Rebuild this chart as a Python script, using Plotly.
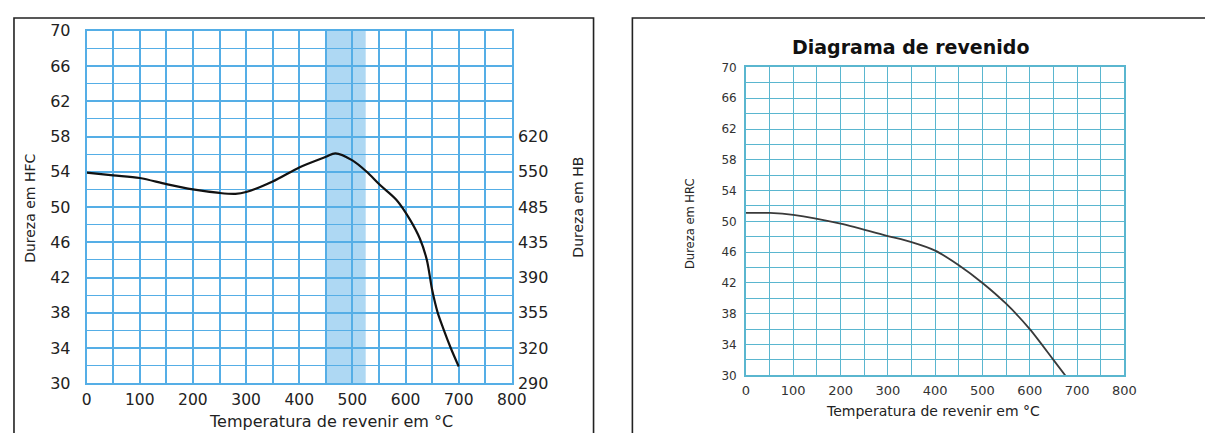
import plotly.graph_objects as go

W, H = 1213, 433

# ---- data (left chart) ----
left_temp = [0, 50, 100, 150, 200, 250, 280, 300, 350, 400, 450, 468, 500, 527, 552, 583, 608, 627, 640, 650, 660, 671, 685, 700]
left_hrc = [53.9, 53.6, 53.3, 52.6, 52.0, 51.6, 51.5, 51.7, 52.9, 54.5, 55.7, 56.1, 55.3, 54.0, 52.5, 50.8, 48.6, 46.4, 44.0, 40.6, 38.1, 36.2, 34.0, 31.9]
hrc_ticks_right = [58, 54, 50, 46, 42, 38, 34, 30]
hb_labels = ["620", "550", "485", "435", "390", "355", "320", "290"]
band_range = [450, 525]

# ---- data (right chart) ----
right_temp = [0, 50, 100, 200, 300, 350, 400, 450, 500, 550, 600, 650, 676]
right_hrc = [51.1, 51.1, 50.85, 49.7, 48.1, 47.3, 46.2, 44.3, 42.0, 39.3, 36.0, 32.0, 29.9]

# map a target screen pixel to a layout (paper) fraction
def px_x(p):
    return ((p - 11.1) / 0.9875) / W

def px_y(p):
    return 1 - ((p - 15.0) / 0.966) / H

FONT = "DejaVu Sans"

fig = go.Figure()

fig.add_trace(go.Scatter(x=left_temp, y=left_hrc, mode="lines", xaxis="x", yaxis="y",
                         line=dict(color="#111111", width=2.2, shape="spline", smoothing=0.9),
                         showlegend=False, hoverinfo="skip"))
# invisible trace to bind the HB axis
fig.add_trace(go.Scatter(x=[0], y=[30], mode="markers", xaxis="x", yaxis="y2",
                         marker=dict(opacity=0), showlegend=False, hoverinfo="skip"))
fig.add_trace(go.Scatter(x=right_temp, y=right_hrc, mode="lines", xaxis="x3", yaxis="y3",
                         line=dict(color="#3a3a3a", width=1.8, shape="spline", smoothing=0.8),
                         showlegend=False, hoverinfo="skip"))

grid_l = "#55aee6"
grid_r = "#5ab6cf"

L_dom_x = [px_x(85), px_x(512)]
L_dom_y = [px_y(385), px_y(29)]
R_dom_x = [px_x(747), px_x(1127)]
R_dom_y = [px_y(377), px_y(66)]

fig.update_layout(
    width=W, height=H, autosize=False,
    margin=dict(l=0, r=0, t=0, b=0),
    paper_bgcolor="white", plot_bgcolor="white",
    xaxis=dict(domain=L_dom_x, range=[0, 800], anchor="y", tickmode="linear", tick0=0, dtick=100,
               showgrid=True, gridcolor=grid_l, gridwidth=1.8,
               minor=dict(dtick=50, showgrid=True, gridcolor=grid_l, gridwidth=1.8),
               zeroline=False, showline=True, linecolor=grid_l, linewidth=1.8, mirror=True,
               ticks="", ticklabelstandoff=1,
               tickfont=dict(family=FONT, size=15.5, color="#222222")),
    yaxis=dict(domain=L_dom_y, range=[30, 70], anchor="x", tickmode="linear", tick0=30, dtick=4,
               showgrid=True, gridcolor=grid_l, gridwidth=1.8,
               minor=dict(dtick=2, showgrid=True, gridcolor=grid_l, gridwidth=1.3),
               zeroline=False, showline=True, linecolor=grid_l, linewidth=1.8, mirror=True,
               ticks="", ticklabelstandoff=11,
               tickfont=dict(family=FONT, size=16, color="#222222")),
    yaxis2=dict(overlaying="y", side="right", anchor="x", range=[30, 70],
                tickmode="array", tickvals=hrc_ticks_right, ticktext=hb_labels,
                showgrid=False, zeroline=False, showline=False, ticks="", ticklabelstandoff=5,
                tickfont=dict(family=FONT, size=16, color="#222222")),
    xaxis3=dict(domain=R_dom_x, range=[0, 800], anchor="y3", tickmode="linear", tick0=0, dtick=100,
                showgrid=True, gridcolor=grid_r, gridwidth=1.3,
                minor=dict(dtick=50, showgrid=True, gridcolor=grid_r, gridwidth=1.3),
                zeroline=False, showline=True, linecolor=grid_r, linewidth=1.5, mirror=True,
                ticks="", ticklabelstandoff=2,
                tickfont=dict(family=FONT, size=13, color="#333333")),
    yaxis3=dict(domain=R_dom_y, range=[30, 70], anchor="x3", tickmode="linear", tick0=30, dtick=4,
                showgrid=True, gridcolor=grid_r, gridwidth=1.3,
                minor=dict(dtick=2, showgrid=True, gridcolor=grid_r, gridwidth=1.0),
                zeroline=False, showline=True, linecolor=grid_r, linewidth=1.5, mirror=True,
                ticks="", ticklabelstandoff=5,
                tickfont=dict(family=FONT, size=12, color="#333333")),
)

# shaded band in left chart
fig.add_shape(type="rect", xref="x", yref="paper", x0=band_range[0], x1=band_range[1],
              y0=L_dom_y[0], y1=L_dom_y[1], fillcolor="rgba(120,190,235,0.6)",
              line=dict(width=0), layer="below")

# frames
fig.add_shape(type="rect", xref="paper", yref="paper", x0=1.0 / W, x1=px_x(594),
              y0=-0.05, y1=1 - 1.0 / H, line=dict(color="#222222", width=1.6))
fig.add_shape(type="rect", xref="paper", yref="paper", x0=px_x(633), x1=1.05,
              y0=-0.05, y1=1 - 1.0 / H, line=dict(color="#222222", width=1.6))

ann = [
    dict(text="Dureza em HFC", x=px_x(28), y=px_y(208), textangle=-90, size=14),
    dict(text="Dureza em HB", x=px_x(578), y=px_y(207), textangle=-90, size=14),
    dict(text="Temperatura de revenir em °C", x=px_x(330), y=px_y(424), textangle=0, size=16),
    dict(text="Dureza em HRC", x=px_x(691), y=px_y(224), textangle=-90, size=11.5),
    dict(text="Temperatura de revenir em °C", x=px_x(935), y=px_y(413), textangle=0, size=14),
]
for a in ann:
    fig.add_annotation(text=a["text"], x=a["x"], y=a["y"], xref="paper", yref="paper",
                       showarrow=False, textangle=a["textangle"], xanchor="center", yanchor="middle",
                       font=dict(family=FONT, size=a["size"], color="#222222"))

fig.add_annotation(text="<b>Diagrama de revenido</b>", x=px_x(912), y=px_y(45), xref="paper", yref="paper",
                   showarrow=False, xanchor="center", yanchor="middle",
                   font=dict(family=FONT, size=19, color="#111111"))

fig.write_html("out.html")
